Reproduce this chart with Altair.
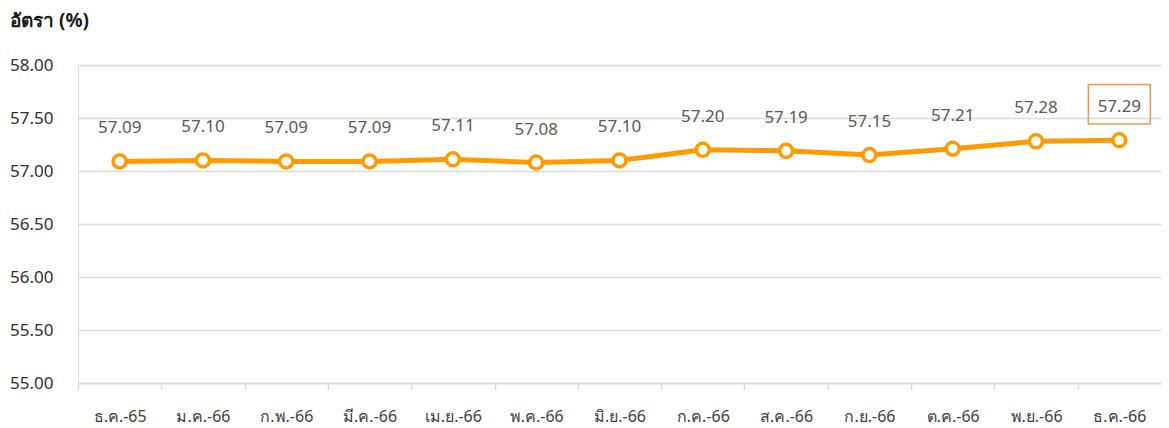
import altair as alt
import pandas as pd

months = ["ธ.ค.-65", "ม.ค.-66", "ก.พ.-66", "มี.ค.-66", "เม.ย.-66", "พ.ค.-66", "มิ.ย.-66",
          "ก.ค.-66", "ส.ค.-66", "ก.ย.-66", "ต.ค.-66", "พ.ย.-66", "ธ.ค.-66"]
rates = [57.09, 57.10, 57.09, 57.09, 57.11, 57.08, 57.10, 57.20, 57.19, 57.15, 57.21, 57.28, 57.29]
y_title = "อัตรา (%)"

df = pd.DataFrame({"month": months, "rate": rates})
df["order"] = range(len(df))
df["last"] = df["order"] == len(df) - 1

FONT = "Noto Sans"
ORANGE = "#FF9A00"

x = alt.X("month:N", sort=months, title=None,
          scale=alt.Scale(type="band", paddingInner=0, paddingOuter=0),
          axis=alt.Axis(labelAngle=0, tickBand="extent", grid=False, domain=True,
                        domainColor="#D9D9D9", domainWidth=1.5, tickColor="#D9D9D9",
                        tickWidth=1.5, tickSize=6, labelPadding=19, labelFontSize=16,
                        labelColor="#404040", labelFont=FONT))
y = alt.Y("rate:Q", title=None,
          scale=alt.Scale(domain=[55, 58], nice=False, zero=False),
          axis=alt.Axis(values=[55, 55.5, 56, 56.5, 57, 57.5, 58], format=".2f",
                        domain=False, ticks=False, grid=True, gridColor="#D9D9D9",
                        gridWidth=1.5, labelPadding=25, labelFontSize=17,
                        labelColor="#303030", labelFont=FONT))

base = alt.Chart(df).encode(x=x, y=y)

line = base.mark_line(color=ORANGE, strokeWidth=5)
points = base.mark_point(filled=True, fill="white", stroke=ORANGE, strokeWidth=3.5,
                         size=170, opacity=1, shape="circle")
labels = base.mark_text(dy=-33, fontSize=17, color="#595959", font=FONT,
                        baseline="middle").encode(text=alt.Text("rate:Q", format=".2f"))
box = base.transform_filter("datum.last").mark_point(
    shape="M-1,-0.64L1,-0.64L1,0.64L-1,0.64Z", size=62 * 62, filled=False,
    stroke="#F39548", strokeWidth=1.5, opacity=1, yOffset=-36)

title = alt.Chart(pd.DataFrame({"t": [y_title]})).mark_text(
    align="left", baseline="middle", fontSize=19, fontWeight="bold",
    color="#1a1a1a", font=FONT).encode(x=alt.value(-68), y=alt.value(-44), text="t:N")

chart = alt.layer(line, points, labels, box, title).properties(
    width=1083, height=318,
    autosize=alt.AutoSizeParams(type="none"),
    padding={"left": 70, "top": 57, "right": 0, "bottom": 45},
).configure_view(stroke=None).configure(background="white")

chart.save("out.html", embed_options={"renderer": "svg", "actions": False})
